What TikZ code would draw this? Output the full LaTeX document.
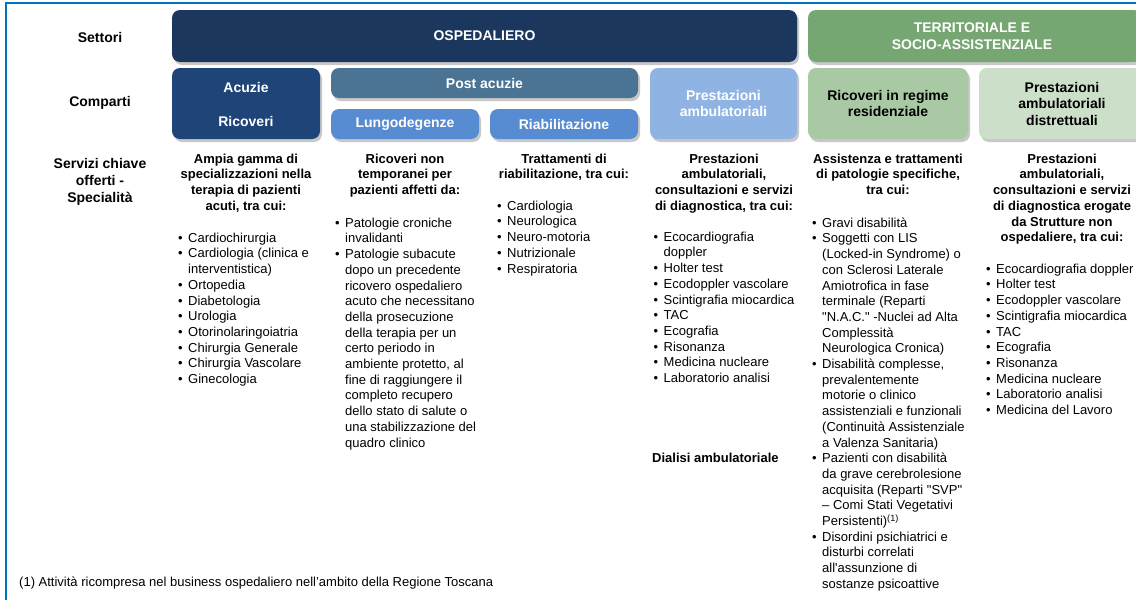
\documentclass[tikz,border=0pt]{standalone}
\usepackage{fontspec}
\setmainfont{Liberation Sans}[Ligatures=TeXOff]
\usetikzlibrary{shadows}
\definecolor{frameblue}{RGB}{0,112,192}
\definecolor{cosp}{RGB}{28,55,94}
\definecolor{cacu}{RGB}{31,68,120}
\definecolor{cpost}{RGB}{74,115,148}
\definecolor{clung}{RGB}{88,140,210}
\definecolor{cpamb}{RGB}{143,180,227}
\definecolor{cterr}{RGB}{118,166,114}
\definecolor{cres}{RGB}{169,201,164}
\definecolor{cdist}{RGB}{204,224,201}
\newcommand\bu{\makebox[10pt][l]{•}}
\newcommand\ct{\hspace*{10pt}}
\newcommand\fl{\rule{0pt}{11pt}}
\begin{document}
\begin{tikzpicture}[x=1pt,y=-1pt,
  box/.style={rounded corners=8pt, inner sep=0pt, draw=none,
    drop shadow={shadow xshift=2pt,shadow yshift=-3pt,opacity=.3,fill=black!70}},
  boxtxt/.style={font=\bfseries\fontsize{14}{16.5}\selectfont, align=center, inner sep=0pt},
  lbl/.style={font=\bfseries\fontsize{14}{17}\selectfont, align=center, inner sep=0pt},
  hdr/.style={font=\bfseries\fontsize{13}{15.7}\selectfont, align=center, inner sep=0pt, anchor=north},
  txt/.style={font=\fontsize{13}{15.7}\selectfont, align=left, inner sep=0pt, anchor=north west},
]
\useasboundingbox (0,0) rectangle (1136,600);
\fill[white] (0,0) rectangle (1136,600);
% frame
\coordinate (fbl) at (6,600);
\coordinate (ftl) at (6,3);
\coordinate (ftr) at (1136,3);
\draw[frameblue, line width=2pt] (fbl) -- (ftl) -- (ftr);

% sector boxes
\node[box, fill=cosp, minimum width=625pt, minimum height=52pt] (osp) at (484.5,36) {};
\node[boxtxt, text=white] (ospT) at (osp.center) {OSPEDALIERO};
\node[box, fill=cterr, minimum width=334pt, minimum height=52pt] (terr) at (975,36) {};
\node[boxtxt, text=white] (terrT) at (972,36) {TERRITORIALE E\\SOCIO-ASSISTENZIALE};

% comparti boxes
\node[box, fill=cacu, minimum width=148pt, minimum height=71pt] (acu) at (246,103.5) {};
\node[boxtxt, text=white] (acuA) at (246,87) {Acuzie};
\node[boxtxt, text=white] (acuR) at (246,121) {Ricoveri};
\node[box, fill=cpost, minimum width=307pt, minimum height=30pt] (post) at (484.5,83) {};
\node[boxtxt, text=white] (postT) at (post.center) {Post acuzie};
\node[box, fill=clung, minimum width=148pt, minimum height=30pt] (lung) at (405,124) {};
\node[boxtxt, text=white] (lungT) at (lung.center) {Lungodegenze};
\node[box, fill=clung, minimum width=148pt, minimum height=30pt] (riab) at (564,124) {};
\node[boxtxt, text=white] (riabT) at (riab.center) {Riabilitazione};
\node[box, fill=cpamb, minimum width=147pt, minimum height=71pt] (pamb) at (723.5,103.5) {};
\node[boxtxt, text=white] (pambT) at (pamb.center) {Prestazioni\\ambulatoriali};
\node[box, fill=cres, minimum width=160pt, minimum height=71pt] (res) at (888,103.5) {};
\node[boxtxt, text=black] (resT) at (res.center) {Ricoveri in regime\\residenziale};
\node[box, fill=cdist, minimum width=164pt, minimum height=71pt] (dist) at (1061,103.5) {};
\node[boxtxt, text=black] (distT) at (1062,103.5) {Prestazioni\\ambulatoriali\\distrettuali};

% row labels
\node[lbl] (settori) at (100,37) {Settori};
\node[lbl] (comparti) at (100,103) {Comparti};
\node[lbl, anchor=north] (servizi) at (100,157) {\fl Servizi chiave\\offerti -\\Specialità};

% column 1
\node[hdr] (h1) at (246,152) {\fl Ampia gamma di\\specializzazioni nella\\terapia di pazienti\\acuti, tra cui:};
\node[txt] (l1) at (178,231) {\fl\bu Cardiochirurgia\\
\bu Cardiologia (clinica e\\
\ct interventistica)\\
\bu Ortopedia\\
\bu Diabetologia\\
\bu Urologia\\
\bu Otorinolaringoiatria\\
\bu Chirurgia Generale\\
\bu Chirurgia Vascolare\\
\bu Ginecologia};

% column 2
\node[hdr] (h2) at (405,152) {\fl Ricoveri non\\temporanei per\\pazienti affetti da:};
\node[txt] (l2) at (335,216) {\fl\bu Patologie croniche\\
\ct invalidanti\\
\bu Patologie subacute\\
\ct dopo un precedente\\
\ct ricovero ospedaliero\\
\ct acuto che necessitano\\
\ct della prosecuzione\\
\ct della terapia per un\\
\ct certo periodo in\\
\ct ambiente protetto, al\\
\ct fine di raggiungere il\\
\ct completo recupero\\
\ct dello stato di salute o\\
\ct una stabilizzazione del\\
\ct quadro clinico};

% column 3
\node[hdr] (h3) at (564,152) {\fl Trattamenti di\\riabilitazione, tra cui:};
\node[txt] (l3) at (497,199) {\fl\bu Cardiologia\\
\bu Neurologica\\
\bu Neuro-motoria\\
\bu Nutrizionale\\
\bu Respiratoria};

% column 4
\node[hdr] (h4) at (724,152) {\fl Prestazioni\\ambulatoriali,\\consultazioni e servizi\\di diagnostica, tra cui:};
\node[txt] (l4) at (653.5,230) {\fl\bu Ecocardiografia\\
\ct doppler\\
\bu Holter test\\
\bu Ecodoppler vascolare\\
\bu Scintigrafia miocardica\\
\bu TAC\\
\bu Ecografia\\
\bu Risonanza\\
\bu Medicina nucleare\\
\bu Laboratorio analisi};
\node[txt, font=\bfseries\fontsize{13}{15.7}\selectfont] (dial) at (652,451) {\fl Dialisi ambulatoriale};

% column 5
\node[hdr] (h5) at (888,152) {\fl Assistenza e trattamenti\\di patologie specifiche,\\tra cui:};
\node[txt] (l5) at (812,216) {\fl\bu Gravi disabilità\\
\bu Soggetti con LIS\\
\ct (Locked-in Syndrome) o\\
\ct con Sclerosi Laterale\\
\ct Amiotrofica in fase\\
\ct terminale (Reparti\\
\ct "N.A.C." -Nuclei ad Alta\\
\ct Complessità\\
\ct Neurologica Cronica)\\
\bu Disabilità complesse,\\
\ct prevalentemente\\
\ct motorie o clinico\\
\ct assistenziali e funzionali\\
\ct (Continuità Assistenziale\\
\ct a Valenza Sanitaria)\\
\bu Pazienti con disabilità\\
\ct da grave cerebrolesione\\
\ct acquisita (Reparti "SVP"\\
\ct – Comi Stati Vegetativi\\
\ct Persistenti)\textsuperscript{(1)}\\
\bu Disordini psichiatrici e\\
\ct disturbi correlati\\
\ct all'assunzione di\\
\ct sostanze psicoattive};

% column 6
\node[hdr] (h6) at (1062,152) {\fl Prestazioni\\ambulatoriali,\\consultazioni e servizi\\di diagnostica erogate\\da Strutture non\\ospedaliere, tra cui:};
\node[txt] (l6) at (986,262) {\fl\bu Ecocardiografia doppler\\
\bu Holter test\\
\bu Ecodoppler vascolare\\
\bu Scintigrafia miocardica\\
\bu TAC\\
\bu Ecografia\\
\bu Risonanza\\
\bu Medicina nucleare\\
\bu Laboratorio analisi\\
\bu Medicina del Lavoro};

% footnote
\node[txt] (fn) at (19,575) {\fl (1) Attività ricompresa nel business ospedaliero nell’ambito della Regione Toscana};
\end{tikzpicture}
\end{document}
